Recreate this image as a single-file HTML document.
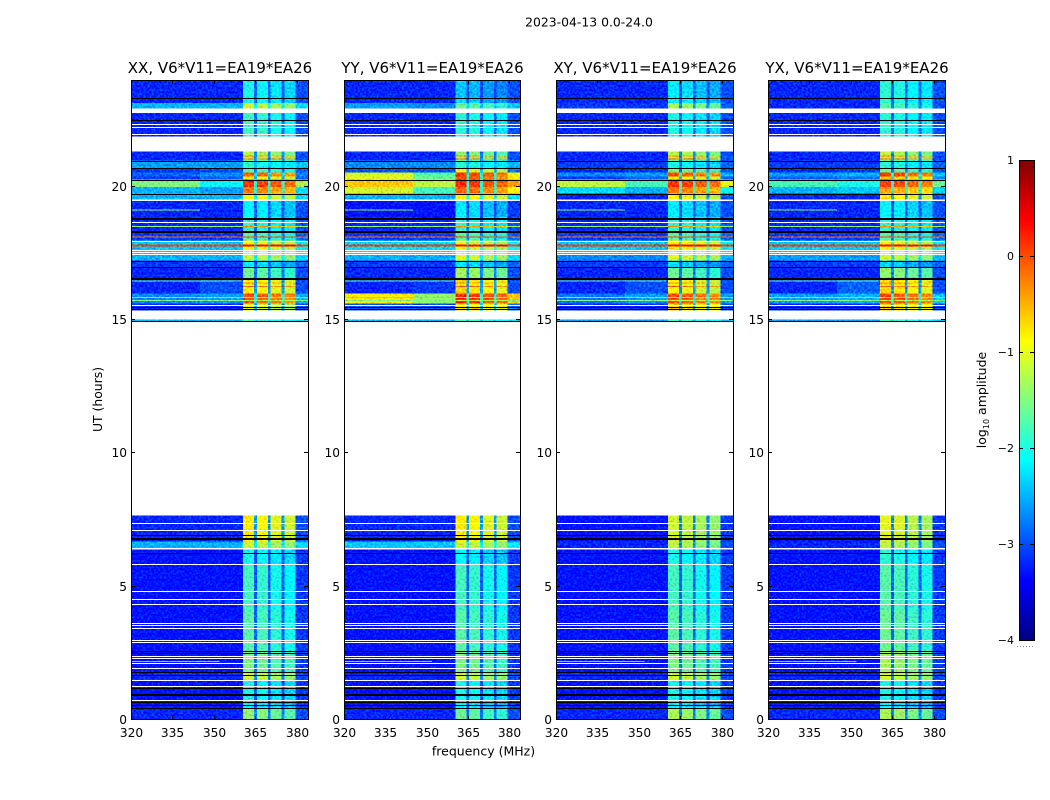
<!DOCTYPE html>
<html>
<head>
<meta charset="utf-8">
<title>2023-04-13 waterfall</title>
<style>
html,body{margin:0;padding:0;background:#fff}
svg{display:block}
text{font-family:"DejaVu Sans","Liberation Sans",sans-serif;fill:#000}
</style>
</head>
<body>
<svg id="fig" xmlns="http://www.w3.org/2000/svg" width="1050" height="800" viewBox="0 0 1050 800">
<defs>
<filter id="grain" filterUnits="userSpaceOnUse" x="0" y="0" width="1050" height="800" color-interpolation-filters="sRGB">
<feTurbulence type="fractalNoise" baseFrequency="0.48" numOctaves="1" seed="7" result="n"/>
<feColorMatrix in="n" type="matrix" values="0 0 0 0 0.5  2.5 0 0 0 -0.75  0 0 0 0 0.5  0 0 0 0 1" result="g"/>
<feComposite in="SourceGraphic" in2="g" operator="arithmetic" k1="0" k2="1" k3="0.4" k4="-0.2" result="c"/>
<feComposite in="c" in2="SourceAlpha" operator="in"/>
</filter>
<linearGradient id="jetGrad" x1="0" y1="1" x2="0" y2="0"></linearGradient>
</defs>
<rect width="1050" height="800" fill="#fff"/>
<text x="589" y="26.5" text-anchor="middle" font-size="12.4">2023-04-13 0.0-24.0</text>
<text x="483.5" y="755.5" text-anchor="middle" font-size="12.5">frequency (MHz)</text>
<text transform="translate(102 399.5) rotate(-90)" text-anchor="middle" font-size="12.4">UT (hours)</text>
<text transform="translate(986 400) rotate(-90)" text-anchor="middle" font-size="12.5">log<tspan font-size="8" dy="3">10</tspan><tspan dy="-3"> amplitude</tspan></text>
<g id="panels"></g>
<g id="colorbar"></g>
</svg>
<script>
const polarizations = ["XX", "YY", "XY", "YX"];
const baselineLabel = ", V6*V11=EA19*EA26";
const xTicks = [320, 335, 350, 365, 380];
const yTicks = [0, 5, 10, 15, 20];
const colorbarTicks = [-4, -3, -2, -1, 0, 1];
const colorbarTickLabels = ["\u22124", "\u22123", "\u22122", "\u22121", "0", "1"];

const rowStartHours = [24,23.34,23.13,22.76,21.32,20.98,20.70,20.53,20.38,20.27,19.98,19.74,19.46,18.86,18.36,17.98,17.46,17.23,16.97,16.56,15.99,15.62,15.01,7.67,6.69,6.39,5.87,4.11,2.61,1.78,1.48,0.74,0.47];
const rowEndHours = [23.34,23.13,22.94,21.89,20.98,20.70,20.53,20.38,20.27,19.98,19.74,19.52,18.86,18.36,17.98,17.46,17.23,16.97,16.56,15.99,15.62,15.36,14.94,6.69,6.45,5.87,4.11,2.61,1.78,1.48,0.74,0.47,0];

const xxLow = [-3.2,-3.2,-2.5,-3.2,-3.2,-2.6,-3.1,-2.9,-3.1,-1.5,-2.5,-2.5,-3.2,-3.2,-3.1,-2.4,-2.5,-3.1,-3.2,-3.2,-2.7,-3.2,-2.5,-3.2,-2.5,-3.3,-3.3,-3.3,-3.3,-3.2,-3.3,-3.3,-3.2];
const xxMid = [-3.2,-3.2,-2.5,-3.2,-3.2,-2.6,-3.0,-2.7,-2.9,-2.1,-2.6,-2.5,-3.2,-3.2,-3.1,-2.4,-2.5,-3.1,-3.2,-3.0,-2.6,-3.2,-2.5,-3.2,-2.5,-3.3,-3.3,-3.3,-3.3,-3.2,-3.3,-3.3,-3.2];
const xxChunk = [-2.0,-2.0,-1.1,-1.8,-1.2,-1.9,-1.7,-0.1,-0.8,0.15,-0.2,-0.9,-2.1,-1.9,-1.7,-0.9,-1.1,-2.2,-1.6,-0.8,0.0,-1.0,-1.8,-0.8,-1.1,-2.0,-1.8,-1.7,-1.5,-1.1,-2.0,-2.2,-1.4];

const yyLow = [-3.2,-3.2,-2.6,-3.2,-3.2,-2.7,-3.0,-1.1,-1.0,-0.6,-1.1,-2.5,-3.3,-3.2,-3.1,-2.3,-2.5,-3.1,-3.2,-3.2,-0.8,-3.0,-2.5,-3.2,-2.4,-3.3,-3.3,-3.3,-3.3,-3.2,-3.3,-3.3,-3.2];
const yyMid = [-3.2,-3.2,-2.7,-3.2,-3.2,-2.7,-3.0,-1.7,-1.6,-1.2,-1.8,-2.5,-3.3,-3.2,-3.1,-2.3,-2.5,-3.1,-3.2,-3.1,-1.4,-3.0,-2.5,-3.2,-2.4,-3.3,-3.3,-3.3,-3.3,-3.2,-3.3,-3.3,-3.2];
const yyChunk = [-2.4,-2.3,-1.6,-1.9,-1.4,-1.9,-1.0,0.1,0.0,0.2,-0.1,-0.8,-2.2,-1.9,-1.7,-1.0,-1.0,-2.2,-1.3,-0.7,0.2,-0.7,-1.8,-0.8,-1.1,-2.1,-1.8,-1.7,-1.5,-1.1,-2.0,-2.2,-1.6];

const xyLow = [-3.2,-3.2,-3.1,-3.2,-3.2,-3.1,-3.2,-2.7,-3.1,-1.2,-2.3,-3.2,-3.2,-3.2,-3.1,-2.4,-2.7,-3.1,-3.2,-3.2,-2.8,-3.2,-2.6,-3.3,-3.2,-3.3,-3.3,-3.3,-3.3,-3.2,-3.3,-3.3,-3.2];
const xyMid = [-3.2,-3.2,-3.1,-3.2,-3.2,-3.1,-3.1,-2.6,-2.9,-1.8,-2.5,-3.2,-3.2,-3.2,-3.1,-2.4,-2.7,-3.1,-3.2,-3.0,-2.6,-3.2,-2.6,-3.3,-3.2,-3.3,-3.3,-3.3,-3.3,-3.2,-3.3,-3.3,-3.2];
const xyChunk = [-2.2,-2.1,-1.3,-2.0,-1.2,-2.0,-1.5,0.0,-0.8,0.15,-0.2,-0.9,-2.2,-1.9,-1.7,-0.8,-1.0,-2.3,-1.6,-0.9,0.0,-0.6,-1.8,-1.1,-1.2,-2.0,-1.8,-1.7,-1.5,-1.1,-2.0,-2.2,-1.3];

const yxLow = [-3.2,-3.2,-3.2,-3.2,-3.2,-3.1,-3.2,-2.6,-2.9,-1.8,-2.5,-3.2,-3.2,-3.2,-3.1,-2.4,-2.6,-3.1,-3.2,-3.2,-2.6,-3.2,-2.6,-3.3,-3.2,-3.3,-3.3,-3.3,-3.3,-3.2,-3.3,-3.3,-3.2];
const yxMid = [-3.2,-3.2,-3.2,-3.2,-3.2,-3.1,-3.1,-2.5,-2.8,-2.0,-2.4,-3.2,-3.2,-3.2,-3.1,-2.4,-2.6,-3.1,-3.2,-2.9,-2.5,-3.2,-2.6,-3.3,-3.2,-3.3,-3.3,-3.3,-3.3,-3.2,-3.3,-3.3,-3.2];
const yxChunk = [-1.9,-1.9,-1.7,-1.9,-1.2,-1.9,-1.6,0.1,-0.6,0.1,-0.4,-0.8,-2.1,-1.9,-1.7,-0.9,-1.1,-2.3,-1.4,-0.7,0.05,-0.6,-1.8,-1.0,-1.2,-1.9,-1.7,-1.6,-1.3,-1.1,-2.0,-2.2,-1.3];

const chunkStartMHz = [360.5, 365.5, 370.5, 375.5];
const chunkEndMHz = [364.5, 369.5, 374.5, 379.5];
const chunkOffsets = [0, -0.08, -0.22, -0.32];

const stripeHours = [18.14, 17.83, 17.79, 18.53, 19.14, 16.49, 15.86, 15.75, 2.22];
const stripeValues = [-0.2, 0.1, 0.1, -1.4, -1.5, -1.6, -1.7, -1.5, -1.9];
const stripeEndMHz = [384, 384, 384, 384, 345, 360, 384, 384, 352];
const chunkStripeHours = [21.17, 21.06, 18.53, 16.4, 16.28];
const chunkStripeValues = [-0.3, -0.1, -0.3, -0.3, -0.1];

const blackLineHours = [23.33,22.5,20.98,20.70,20.26,19.73,17.22,16.98,15.48,15.41,14.98,6.92,6.83,6.77,6.27,2.58,2.51,1.79,1.67,1.19,0.98,0.92,0.67,0.57,0.46];
const thickBlackHours = [18.83, 18.32, 16.56];
const whiteLineHours = [22.36,22.23,21.98,18.69,17.98,17.95,17.64,17.54,17.48,15.57,7.40,7.13,5.86,4.85,4.55,4.35,3.65,3.55,3.44,2.99,2.92,2.39,2.31,2.15,1.96,1.51,1.27,0.76];

const panelLows = [xxLow, yyLow, xyLow, yxLow];
const panelMids = [xxMid, yyMid, xyMid, yxMid];
const panelChunks = [xxChunk, yyChunk, xyChunk, yxChunk];

const NS = "http://www.w3.org/2000/svg";
const panelLeft = [131, 344, 556, 768];
const panelWidth = [177, 176, 177, 177];
const plotTop = 80, plotBottom = 720;
const minMHz = 320, maxMHz = 384, minHour = 0, maxHour = 24;
const cbLeft = 1019, cbRight = 1034, cbTop = 160, cbBottom = 640;

function xScale(p, f) { return panelLeft[p] + (f - minMHz) / (maxMHz - minMHz) * panelWidth[p]; }
function yScale(h) { return plotBottom - (h - minHour) / (maxHour - minHour) * (plotBottom - plotTop); }
function cbScale(v) { return cbBottom - (v + 4) / 5 * (cbBottom - cbTop); }
function clip01(v) { return Math.max(0, Math.min(1, v)); }
function jet(v) {
  const t = clip01((v + 4) / 5);
  const r = clip01(1.5 - Math.abs(4 * t - 3));
  const g = clip01(1.5 - Math.abs(4 * t - 2));
  const b = clip01(1.5 - Math.abs(4 * t - 1));
  return "rgb(" + Math.round(r * 255) + "," + Math.round(g * 255) + "," + Math.round(b * 255) + ")";
}
function make(tag, parent, attrs) {
  const el = document.createElementNS(NS, tag);
  for (const k in attrs) el.setAttribute(k, attrs[k]);
  parent.appendChild(el);
  return el;
}
function cell(parent, p, f0, f1, h0, h1, v, minPx) {
  const y0 = yScale(h0);
  let y1 = yScale(h1);
  if (minPx && y1 - y0 < minPx) y1 = y0 + minPx;
  const el = make("rect", parent, { x: xScale(p, f0), y: y0, width: xScale(p, f1) - xScale(p, f0), height: y1 - y0, fill: jet(v), "shape-rendering": "crispEdges" });
  
  
  return el;
}
function hLine(parent, p, h, color, thick, name) {
  const el = make("rect", parent, { x: panelLeft[p], y: Math.round(yScale(h)), width: panelWidth[p], height: thick, fill: color, "shape-rendering": "crispEdges" });
  
  
  return el;
}
function tick(parent, x1, y1, x2, y2, name) {
  const el = make("line", parent, { x1: x1, y1: y1, x2: x2, y2: y2, stroke: "#000", "stroke-width": 1, "shape-rendering": "crispEdges" });
  
  
}
function label(parent, x, y, anchor, size, str, name) {
  const el = make("text", parent, { x: x, y: y, "text-anchor": anchor, "font-size": size });
  el.textContent = str;
  
  
}

const root = document.getElementById("panels");
polarizations.forEach(function (pol, p) {
  const g = make("g", root, {});
  
  
  const L = panelLeft[p], W = panelWidth[p];
  const low = panelLows[p], mid = panelMids[p], chunk = panelChunks[p];

  const marks = make("g", g, { filter: "url(#grain)" });
  
  

  rowStartHours.forEach(function (h0, r) {
    const h1 = rowEndHours[r];
    cell(marks, p, 320, 345, h0, h1, low[r]);
    cell(marks, p, 345, 360.5, h0, h1, mid[r]);
    chunkStartMHz.forEach(function (s, c) {
      cell(marks, p, s, chunkEndMHz[c], h0, h1, chunk[r] + chunkOffsets[c]);
      const gapEnd = c < 3 ? chunkStartMHz[c + 1] : 384;
      const gapVal = c < 3 ? Math.min(-1.9, low[r] * 0.75 + chunk[r] * 0.25) : low[r] + 0.2;
      cell(marks, p, chunkEndMHz[c], gapEnd, h0, h1, gapVal);
    });
  });
  stripeHours.forEach(function (h, i) {
    cell(marks, p, 320, stripeEndMHz[i], h, h - 0.03, stripeValues[i], 1);
  });
  stripeHours.forEach(function (h, i) {
    chunkStartMHz.forEach(function (s, c) {
      if (stripeEndMHz[i] > 380) cell(marks, p, s, chunkEndMHz[c], h, h - 0.03, stripeValues[i] + 0.3, 1);
    });
  });
  chunkStripeHours.forEach(function (h, i) {
    chunkStartMHz.forEach(function (s, c) {
      cell(marks, p, s, chunkEndMHz[c], h, h - 0.03, chunkStripeValues[i] + chunkOffsets[c], 1);
    });
  });

  whiteLineHours.forEach(function (h) { hLine(g, p, h, "#fff", 1, "flagged-row"); });
  blackLineHours.forEach(function (h) { hLine(g, p, h, "#000", 1, "dropout-line"); });
  thickBlackHours.forEach(function (h) { hLine(g, p, h, "#000", 2, "dropout-line"); });

  xTicks.forEach(function (f) {
    const x = Math.round(xScale(p, f)) + 0.5;
    tick(g, x, plotBottom, x, plotBottom - 4, "x-tick");
    tick(g, x, plotTop, x, plotTop + 4, "x-tick-top");
    label(g, x, plotBottom + 17, "middle", 12.2, String(f), "x-tick-label");
  });
  yTicks.forEach(function (h) {
    const y = Math.round(yScale(h)) - 0.5;
    tick(g, L, y, L + 4, y, "y-tick");
    tick(g, L + W, y, L + W - 4, y, "y-tick-right");
    label(g, L - 4, y + 4.5, "end", 12.2, String(h), "y-tick-label");
  });

  const frame = make("rect", g, { x: L + 0.5, y: plotTop + 0.5, width: W, height: plotBottom - plotTop - 1, fill: "none", stroke: "#000", "stroke-width": 1, "shape-rendering": "crispEdges" });
  
  

  label(g, L + W / 2 + 0.5, 73, "middle", 15, pol + baselineLabel, "panel-title");
});

const grad = document.getElementById("jetGrad");
for (let i = 0; i <= 16; i++) {
  make("stop", grad, { offset: i / 16, "stop-color": jet(-4 + 5 * i / 16) });
}
const cb = document.getElementById("colorbar");
const bar = make("rect", cb, { x: cbLeft + 0.5, y: cbTop + 0.5, width: cbRight - cbLeft, height: cbBottom - cbTop, fill: "url(#jetGrad)", stroke: "#000", "stroke-width": 1, "shape-rendering": "crispEdges" });


colorbarTicks.forEach(function (v, i) {
  const y = Math.round(cbScale(v)) + 0.5;
  tick(cb, cbLeft, y, cbLeft + 4, y, "colorbar-tick");
  tick(cb, cbRight, y, cbRight - 4, y, "colorbar-tick");
  label(cb, cbLeft - 5, y + 3.5, "end", 11, colorbarTickLabels[i], "colorbar-tick-label");
});
const dots = make("line", cb, { x1: 1017, y1: 646.5, x2: 1035, y2: 646.5, stroke: "#888", "stroke-width": 1, "stroke-dasharray": "1 2" });


</script>
</body>
</html>
